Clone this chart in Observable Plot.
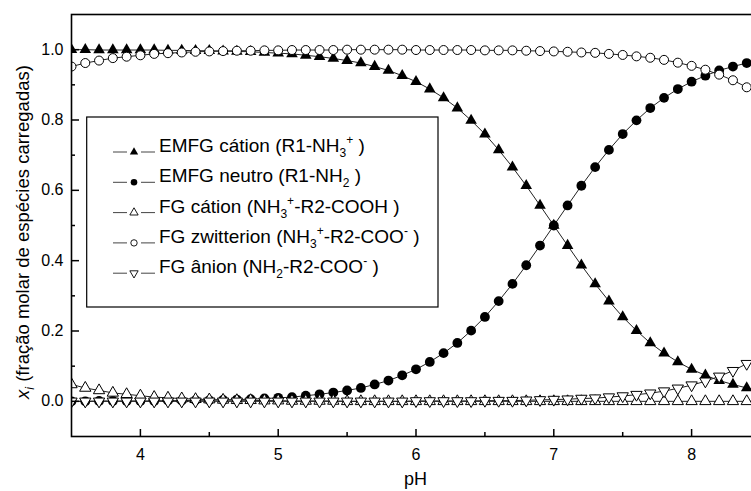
<!DOCTYPE html>
<html><head><meta charset="utf-8">
<script src="https://cdn.jsdelivr.net/npm/d3@7"></script>
<script src="https://cdn.jsdelivr.net/npm/@observablehq/plot@0.6"></script>
<style>
body{margin:0;background:#fff;}
#wrap{position:relative;width:751px;height:491px;overflow:hidden;background:#fff;}
</style></head><body><div id="wrap"></div>
<script>
// ---- data ----
const pH = [3.5,3.6,3.7,3.8,3.9,4.0,4.1,4.2,4.3,4.4,4.5,4.6,4.7,4.8,4.9,5.0,5.1,5.2,5.3,5.4,5.5,5.6,5.7,5.8,5.9,6.0,6.1,6.2,6.3,6.4,6.5,6.6,6.7,6.8,6.9,7.0,7.1,7.2,7.3,7.4,7.5,7.6,7.7,7.8,7.9,8.0,8.1,8.2,8.3,8.4,8.5];
const emfgCation = [1.000,1.000,0.999,0.999,0.999,0.999,0.999,0.998,0.998,0.997,0.997,0.996,0.995,0.994,0.992,0.990,0.988,0.984,0.980,0.975,0.969,0.962,0.952,0.941,0.926,0.909,0.888,0.863,0.834,0.799,0.760,0.715,0.666,0.613,0.557,0.500,0.443,0.387,0.334,0.285,0.240,0.201,0.166,0.137,0.112,0.091,0.074,0.059,0.048,0.038,0.031];
const emfgNeutro = [0.000,0.000,0.001,0.001,0.001,0.001,0.001,0.002,0.002,0.003,0.003,0.004,0.005,0.006,0.008,0.010,0.012,0.016,0.020,0.025,0.031,0.038,0.048,0.059,0.074,0.091,0.112,0.137,0.166,0.201,0.240,0.285,0.334,0.387,0.443,0.500,0.557,0.613,0.666,0.715,0.760,0.799,0.834,0.863,0.888,0.909,0.926,0.941,0.952,0.962,0.969];
const fgCation = [0.048,0.038,0.031,0.024,0.020,0.016,0.012,0.010,0.008,0.006,0.005,0.004,0.003,0.003,0.002,0.002,0.001,0.001,0.001,0.001,0.000,0.000,0.000,0.000,0.000,0.000,0.000,0.000,0.000,0.000,0.000,0.000,0.000,0.000,0.000,0.000,0.000,0.000,0.000,0.000,0.000,0.000,0.000,0.000,0.000,0.000,0.000,0.000,0.000,0.000,0.000];
const fgZwitterion = [0.952,0.962,0.969,0.976,0.980,0.984,0.988,0.990,0.992,0.994,0.995,0.996,0.997,0.997,0.998,0.998,0.999,0.999,0.999,0.999,1.000,1.000,1.000,1.000,1.000,0.999,0.999,0.999,0.999,0.999,0.998,0.998,0.998,0.997,0.996,0.995,0.994,0.992,0.991,0.988,0.985,0.981,0.977,0.971,0.963,0.954,0.943,0.929,0.913,0.893,0.869];
const fgAnion = [0.000,0.000,0.000,0.000,0.000,0.000,0.000,0.000,0.000,0.000,0.000,0.000,0.000,0.000,0.000,0.000,0.000,0.000,0.000,0.000,0.000,0.000,0.000,0.000,0.000,0.001,0.001,0.001,0.001,0.001,0.002,0.002,0.002,0.003,0.004,0.005,0.006,0.008,0.009,0.012,0.015,0.019,0.023,0.029,0.037,0.046,0.057,0.071,0.087,0.107,0.131];

const xTicks = [4,5,6,7,8];
const xMinorTicks = [4.5,5.5,6.5,7.5];
const yTicks = [0.0,0.2,0.4,0.6,0.8,1.0];
const yMinorTicks = [0.1,0.3,0.5,0.7,0.9];

const legendLabels = [
  [["EMFG cátion (R1-NH",0],["3",1],["+",2],[" )",0]],
  [["EMFG neutro (R1-NH",0],["2",1],[" )",0]],
  [["FG cátion (NH",0],["3",1],["+",2],["-R2-COOH )",0]],
  [["FG zwitterion (NH",0],["3",1],["+",2],["-R2-COO",0],["-",2],[" )",0]],
  [["FG ânion (NH",0],["2",1],["-R2-COO",0],["-",2],[" )",0]]
];

const series = [
  {key:"emfgCation", values:emfgCation, symbol:"triangle", open:false, r:4.3, rotate:0, d3sym:d3.symbolTriangle, lsize:30},
  {key:"emfgNeutro", values:emfgNeutro, symbol:"circle", open:false, r:4.9, rotate:0, d3sym:d3.symbolCircle, lsize:34},
  {key:"fgCation", values:fgCation, symbol:"triangle", open:true, r:4.2, rotate:0, d3sym:d3.symbolTriangle, lsize:30},
  {key:"fgZwitterion", values:fgZwitterion, symbol:"circle", open:true, r:4.5, rotate:0, d3sym:d3.symbolCircle, lsize:32},
  {key:"fgAnion", values:fgAnion, symbol:"triangle", open:true, r:4.2, rotate:180, d3sym:d3.symbolTriangle, lsize:30}
];

const rowsOf = s => pH.map((x,i)=>({x, y:s.values[i], key:s.key}));
const allRows = series.flatMap(rowsOf);

// ---- layout ----
const W = 760, H = 491, mL = 71, mR = 0, mT = 14, mB = 55;
const plotW = W - mL - mR, plotH = H - mT - mB;
const FONT = "'Liberation Sans', Arial, Helvetica, sans-serif";

const marks = [];
marks.push(Plot.line(allRows, {x:"x", y:"y", z:"key", stroke:"#222", strokeWidth:1, clip:true}));
for (const s of series) {
  marks.push(Plot.dot(rowsOf(s), {x:"x", y:"y", symbol:s.symbol, r:s.r, rotate:s.rotate,
    fill: s.open ? "white" : "black", stroke: s.open ? "black" : "none", strokeWidth:1, clip:true}));
}

// inward ticks
marks.push(Plot.tickX(xTicks, {x:d=>d, stroke:"black", strokeWidth:1.5, insetTop: plotH - 7}));
marks.push(Plot.tickX(xMinorTicks, {x:d=>d, stroke:"black", strokeWidth:1.5, insetTop: plotH - 4}));
marks.push(Plot.tickY(yTicks, {y:d=>d, stroke:"black", strokeWidth:1.5, insetRight: plotW - 8}));
marks.push(Plot.tickY(yMinorTicks, {y:d=>d, stroke:"black", strokeWidth:1.5, insetRight: plotW - 4}));
marks.push(Plot.axisX({ticks:xTicks, tickSize:0, tickPadding:12, fontSize:16, label:null, tickFormat:d=>String(d)}));
marks.push(Plot.axisY({ticks:yTicks, tickSize:0, tickPadding:8, fontSize:16, label:null, tickFormat:d3.format(".1f")}));
marks.push(Plot.frame({stroke:"black", strokeWidth:1.6}));

const chart = Plot.plot({
  width: W, height: H,
  marginLeft: mL, marginRight: mR, marginTop: mT, marginBottom: mB,
  x: {domain:[3.5, 8.5]},
  y: {domain:[-0.1, 1.1]},
  style: {fontFamily: FONT, fontSize: "16px", color: "black", background: "white", maxWidth: "none", overflow: "visible"},
  marks
});
document.getElementById("wrap").appendChild(chart);

const svg = d3.select(chart);

// rich text helper: level 0 base, 1 sub, 2 sup
function richText(sel, parts, subSize, subShift, supShift) {
  let cur = 0;
  for (const [t, lvl] of parts) {
    const target = lvl === 1 ? subShift : lvl === 2 ? -supShift : 0;
    const ts = sel.append("tspan").text(t).attr("dy", target - cur);
    if (lvl) ts.style("font-size", subSize + "px");
    cur = target;
  }
}

// y axis label
const yl = svg.append("text")
  .attr("transform", "translate(28.5,232) rotate(-90)")
  .attr("text-anchor", "middle")
  .style("font-family", FONT).style("font-size", "18.5px").attr("fill", "black");
yl.append("tspan").text("x").style("font-style", "italic");
yl.append("tspan").text("i").style("font-style", "italic").style("font-size", "12px").attr("dy", 5);
yl.append("tspan").text(" (fração molar de espécies carregadas)").attr("dy", -5);

// x axis label
svg.append("text").attr("x", (mL + W - mR) / 2).attr("y", 485)
  .attr("text-anchor", "middle")
  .style("font-family", FONT).style("font-size", "18px").attr("fill", "black")
  .text("pH");

// legend
const lg = svg.append("g").attr("text-anchor", "start");
lg.append("rect").attr("x", 86.7).attr("y", 117).attr("width", 351.3).attr("height", 190)
  .attr("fill", "white").attr("stroke", "black").attr("stroke-width", 1.2);
const rowY0 = 152, rowStep = 30.3;
series.forEach((s, i) => {
  const y = rowY0 + i * rowStep;
  lg.append("line").attr("x1", 113).attr("x2", 127).attr("y1", y).attr("y2", y)
    .attr("stroke", "#444").attr("stroke-width", 1);
  lg.append("line").attr("x1", 141).attr("x2", 155).attr("y1", y).attr("y2", y)
    .attr("stroke", "#444").attr("stroke-width", 1);
  lg.append("path").attr("d", d3.symbol(s.d3sym, s.lsize)())
    .attr("transform", `translate(134,${y}) rotate(${s.rotate})`)
    .attr("fill", s.open ? "white" : "black")
    .attr("stroke", s.open ? "black" : "none").attr("stroke-width", 0.9);
  const t = lg.append("text").attr("x", 159).attr("y", y).attr("dy", "0.36em")
    .attr("text-anchor", "start")
    .style("font-family", FONT).style("font-size", "19px").attr("fill", "black");
  richText(t, legendLabels[i], 12, 5, 8);
});
</script></body></html>
